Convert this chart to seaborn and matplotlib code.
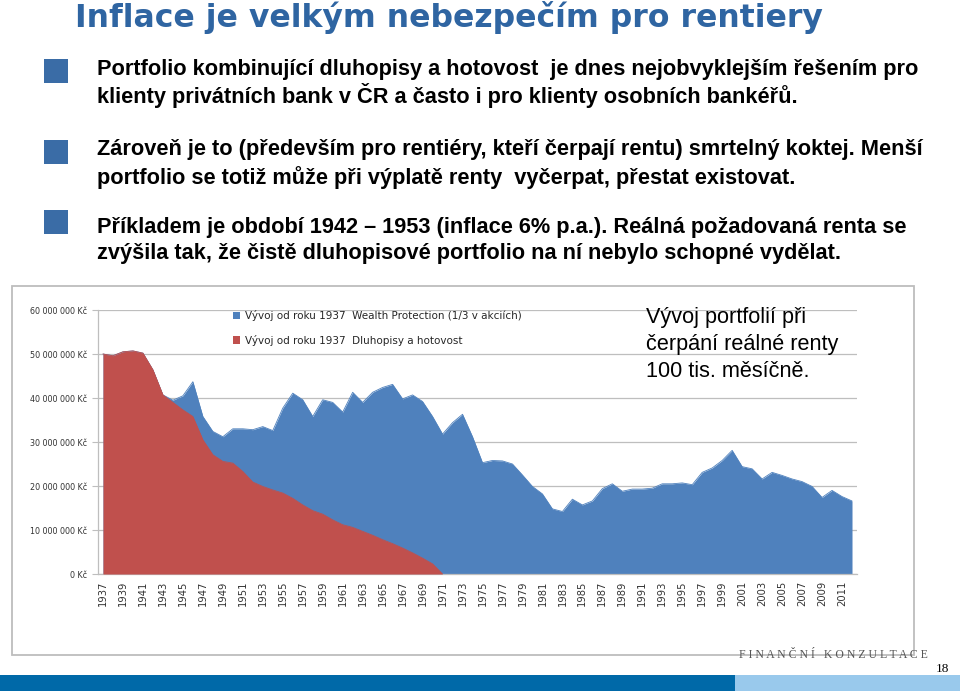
import matplotlib
matplotlib.use("Agg")
import matplotlib.pyplot as plt
import seaborn as sns
import pandas as pd
from matplotlib.patches import Rectangle, Patch

# ---------------- data ----------------
years = list(range(1937, 2013))
wealth_protection = [
    50.0, 49.6, 50.5, 50.7, 50.2, 46.4, 40.7, 39.5, 40.5, 43.7,
    35.8, 32.4, 31.2, 33.0, 33.0, 32.8, 33.5, 32.6, 37.7, 41.1,
    39.6, 35.8, 39.6, 39.0, 36.8, 41.3, 39.0, 41.3, 42.4, 43.1,
    39.8, 40.7, 39.2, 35.8, 31.8, 34.4, 36.3, 31.2, 25.3, 25.8,
    25.7, 25.0, 22.5, 19.9, 18.2, 14.8, 14.2, 17.0, 15.7, 16.6,
    19.4, 20.5, 18.8, 19.3, 19.3, 19.5, 20.5, 20.5, 20.7, 20.3,
    23.1, 24.1, 25.8, 28.1, 24.4, 23.9, 21.6, 23.1, 22.4, 21.6,
    21.0, 19.9, 17.4, 19.0, 17.6, 16.6]
bonds_cash = [
    50.0, 49.6, 50.5, 50.7, 50.2, 46.4, 40.7, 39.0, 37.3, 35.8,
    30.5, 27.1, 25.6, 25.2, 23.3, 20.9, 19.9, 19.1, 18.4, 17.2,
    15.7, 14.4, 13.6, 12.3, 11.2, 10.6, 9.7, 8.8, 7.8, 6.9,
    5.9, 4.8, 3.6, 2.3, 0.0, 0.0, 0.0, 0.0, 0.0, 0.0,
    0.0, 0.0, 0.0, 0.0, 0.0, 0.0, 0.0, 0.0, 0.0, 0.0,
    0.0, 0.0, 0.0, 0.0, 0.0, 0.0, 0.0, 0.0, 0.0, 0.0,
    0.0, 0.0, 0.0, 0.0, 0.0, 0.0, 0.0, 0.0, 0.0, 0.0,
    0.0, 0.0, 0.0, 0.0, 0.0, 0.0]
series_labels = ["Vývoj od roku 1937  Wealth Protection (1/3 v akciích)",
                 "Vývoj od roku 1937  Dluhopisy a hotovost"]
y_ticks = [0, 10, 20, 30, 40, 50, 60]
y_tick_labels = ["0 Kč", "10 000 000 Kč", "20 000 000 Kč", "30 000 000 Kč",
                 "40 000 000 Kč", "50 000 000 Kč", "60 000 000 Kč"]

title = "Inflace je velkým nebezpečím pro rentiery"
bullets = [
    ["Portfolio kombinující dluhopisy a hotovost  je dnes nejobvyklejším řešením pro",
     "klienty privátních bank v ČR a často i pro klienty osobních bankéřů."],
    ["Zároveň je to (především pro rentiéry, kteří čerpají rentu) smrtelný koktej. Menší",
     "portfolio se totiž může při výplatě renty  vyčerpat, přestat existovat."],
    ["Příkladem je období 1942 – 1953 (inflace 6% p.a.). Reálná požadovaná renta se",
     "zvýšila tak, že čistě dluhopisové portfolio na ní nebylo schopné vydělat."],
]
note = "Vývoj portfolií při\nčerpání reálné renty\n100 tis. měsíčně."

# ---------------- style ----------------
sns.set_style("white")
plt.rcParams["font.family"] = ["Liberation Sans", "DejaVu Sans"]

BLUE = "#4F81BD"
RED = "#C0504D"
TITLE_BLUE = "#2F65A2"
BULLET_BLUE = "#3A6CA6"
GRID = "#BEBEBE"

W, H = 960, 691
fig = plt.figure(figsize=(W / 100, H / 100), dpi=100)
fig.patch.set_facecolor("white")

def fx(px):
    return px / W

def fy(py):
    return 1 - py / H

# chart frame
fig.patches.append(Rectangle((fx(12), fy(655)), fx(914) - fx(12), fy(286) - fy(655),
                             transform=fig.transFigure, fill=False,
                             edgecolor="#BDBDBD", linewidth=1.3, zorder=0))

ax = fig.add_axes([fx(98), fy(574), fx(857) - fx(98), fy(310) - fy(574)])

df = pd.DataFrame({"idx": range(len(years)), "year": years,
                   "wp": wealth_protection, "bc": bonds_cash})

ax.fill_between(df["idx"], 0, df["wp"], color=BLUE, linewidth=0, zorder=2)
sns.lineplot(data=df, x="idx", y="wp", ax=ax, color=BLUE, linewidth=0.6, zorder=2)
red_df = df[df["year"] <= 1971]
ax.fill_between(red_df["idx"], 0, red_df["bc"], color=RED, linewidth=0, zorder=3)
sns.lineplot(data=red_df, x="idx", y="bc", ax=ax, color=RED, linewidth=0.6, zorder=3)

ax.set_xlim(-0.5, len(years) - 0.5)
ax.set_ylim(0, 60)
ax.set_yticks(y_ticks)
ax.set_yticklabels(y_tick_labels, fontsize=5.8, color="#333333",
                   family=["DejaVu Sans"])
ax.yaxis.grid(True, color=GRID, linewidth=0.9, zorder=1)
ax.set_axisbelow(True)
ax.set_xticks(list(range(0, len(years), 2)))
ax.set_xticklabels([str(y) for y in years[::2]], rotation=90, fontsize=7.2,
                   color="#333333", family=["DejaVu Sans"])
ax.set_xticks([i - 0.5 for i in range(len(years) + 1)], minor=True)
ax.tick_params(axis="x", which="major", length=0, pad=5)
ax.tick_params(axis="x", which="minor", length=4, color=GRID, width=0.8)
ax.tick_params(axis="y", length=4, color=GRID, width=0.8, pad=4, left=True)
ax.set_xlabel("")
ax.set_ylabel("")
for s in ["top", "right"]:
    ax.spines[s].set_visible(False)
ax.spines["left"].set_color(GRID)
ax.spines["bottom"].set_color(GRID)
ax.spines["left"].set_linewidth(0.9)
ax.spines["bottom"].set_linewidth(0.9)

handles = [Patch(facecolor=BLUE, edgecolor="none"), Patch(facecolor=RED, edgecolor="none")]
fig.legend(handles, series_labels, loc="upper left", bbox_to_anchor=(fx(229), fy(306)),
           frameon=False, handlelength=0.7, handleheight=0.7,
           handletextpad=0.4, labelspacing=1.3, borderaxespad=0,
           prop={"family": ["DejaVu Sans"], "size": 7.5})

fig.text(fx(646), fy(307), note, fontsize=15.6, va="top", ha="left",
         color="black", linespacing=1.36)

# title
fig.text(fx(75), fy(18), title, fontsize=22.7, fontweight="bold", color=TITLE_BLUE,
         va="center", ha="left", family=["DejaVu Sans"])

# bullets
bullet_tops = [59, 140, 210]
line_ys = [(70, 96), (150, 178), (227, 253)]
for top, (y1, y2), lines in zip(bullet_tops, line_ys, bullets):
    fig.patches.append(Rectangle((fx(44), fy(top + 24)), fx(24), fy(0) - fy(24),
                                 transform=fig.transFigure, facecolor=BULLET_BLUE,
                                 edgecolor="none"))
    for yy, line in ((y1, lines[0]), (y2, lines[1])):
        fig.text(fx(97), fy(yy), line, fontsize=15.7, fontweight="bold",
                 va="center", ha="left", color="black")

# footer
fig.text(fx(928), fy(655), "F I N A N Č N Í   K O N Z U L T A C E", fontsize=8.5,
         family=["Liberation Serif"], color="#555555", ha="right", va="center")
fig.text(fx(949), fy(669), "18", fontsize=9.5, family=["Liberation Serif"],
         color="black", ha="right", va="center")
fig.patches.append(Rectangle((0, 0), fx(735), fy(675), transform=fig.transFigure,
                             facecolor="#0069A8", edgecolor="none"))
fig.patches.append(Rectangle((fx(735), 0), 1 - fx(735), fy(675), transform=fig.transFigure,
                             facecolor="#99C9EC", edgecolor="none"))

fig.savefig("out.png", dpi=100, facecolor="white")
